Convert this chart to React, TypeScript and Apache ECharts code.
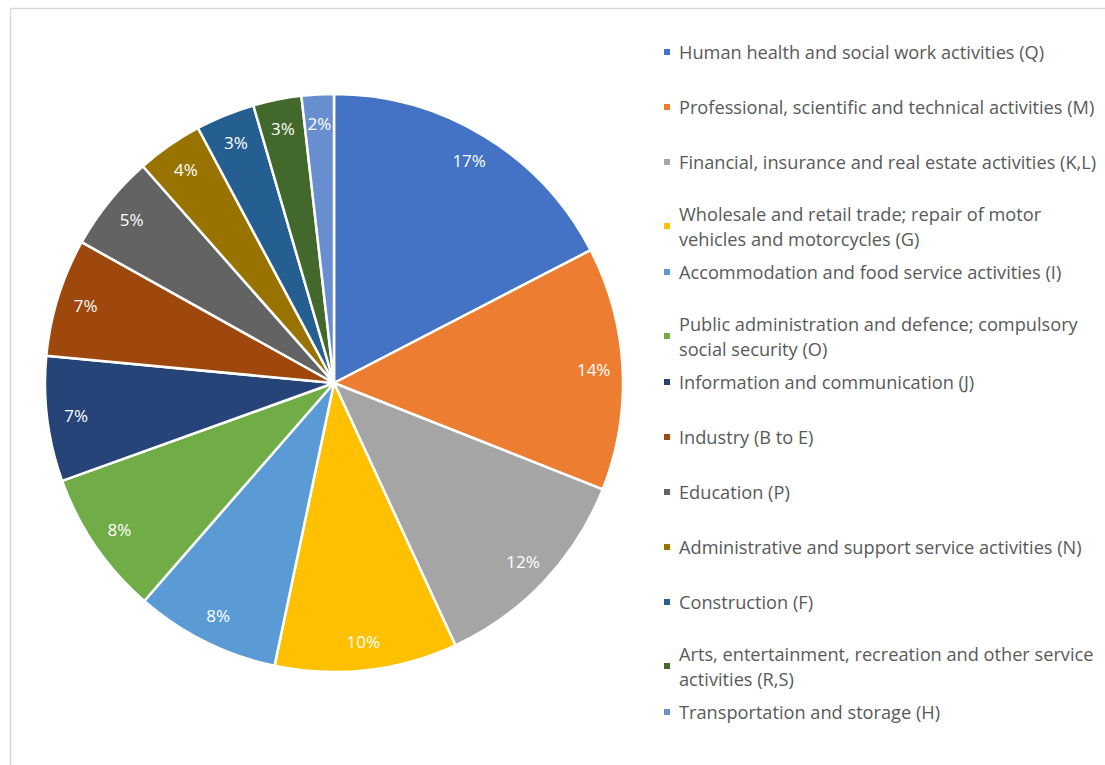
import React, { useEffect, useRef } from "react";
import * as echarts from "echarts";

const categories = [
  "Human health and social work activities (Q)",
  "Professional, scientific and technical activities (M)",
  "Financial, insurance and real estate activities (K,L)",
  "Wholesale and retail trade; repair of motor vehicles and motorcycles (G)",
  "Accommodation and food service activities (I)",
  "Public administration and defence; compulsory social security (O)",
  "Information and communication (J)",
  "Industry (B to E)",
  "Education (P)",
  "Administrative and support service activities (N)",
  "Construction (F)",
  "Arts, entertainment, recreation and other service activities (R,S)",
  "Transportation and storage (H)",
];

const legendLabels = [
  "Human health and social work activities (Q)",
  "Professional, scientific and technical activities (M)",
  "Financial, insurance and real estate activities (K,L)",
  "Wholesale and retail trade; repair of motor\nvehicles and motorcycles (G)",
  "Accommodation and food service activities (I)",
  "Public administration and defence; compulsory\nsocial security (O)",
  "Information and communication (J)",
  "Industry (B to E)",
  "Education (P)",
  "Administrative and support service activities (N)",
  "Construction (F)",
  "Arts, entertainment, recreation and other service\nactivities (R,S)",
  "Transportation and storage (H)",
];

const shares = [17.4, 13.6, 12.1, 10.2, 8.1, 8.1, 7.0, 6.6, 5.4, 3.7, 3.3, 2.7, 1.8];

const colors = [
  "#4472C4", "#ED7D31", "#A5A5A5", "#FFC000", "#5B9BD5", "#70AD47",
  "#264478", "#9E480E", "#636363", "#997300", "#255E91", "#43682B", "#698ED0",
];

const FONT = "'Open Sans', 'Noto Sans', sans-serif";

export default function App() {
  const ref = useRef<HTMLDivElement>(null);
  useEffect(() => {
    if (!ref.current) return;
    const chart = echarts.init(ref.current, undefined, { renderer: "svg" });
    const data = categories.map((name, i) => ({ name, value: shares[i] }));
    const center = [334, 383];
    chart.setOption({
      animation: false,
      color: colors,
      backgroundColor: "#ffffff",
      graphic: [
        { type: "line", shape: { x1: 10.5, y1: 8.5, x2: 1105, y2: 8.5 }, style: { stroke: "#d9d9d9", lineWidth: 1.5 } },
        { type: "line", shape: { x1: 10.5, y1: 8.5, x2: 10.5, y2: 765 }, style: { stroke: "#d9d9d9", lineWidth: 1.5 } },
      ],
      legend: categories.map((name, i) => ({
        orient: "vertical",
        left: 662,
        top: 52 + i * 55 - 12.5,
        padding: 0,
        data: [name],
        icon: "rect",
        itemWidth: 8,
        itemHeight: 8,
        selectedMode: false,
        formatter: () => legendLabels[i],
        textStyle: {
          fontFamily: FONT,
          fontSize: 18.2,
          color: "#595959",
          lineHeight: 25,
          height: 25,
          padding: [0, 0, 0, 3],
        },
      })),
      series: [
        {
          type: "pie",
          center,
          radius: [0, 289],
          startAngle: 90,
          clockwise: true,
          data,
          label: { show: false },
          labelLine: { show: false },
          itemStyle: { borderColor: "#ffffff", borderWidth: 2.5 },
          emphasis: { disabled: true },
        },
        {
          type: "pie",
          center,
          radius: [225, 289],
          startAngle: 90,
          clockwise: true,
          silent: true,
          legendHoverLink: false,
          data,
          itemStyle: { color: "transparent", borderWidth: 0 },
          label: {
            show: true,
            position: "inside",
            formatter: (p: any) => Math.round(p.percent) + "%",
            color: "#ffffff",
            fontFamily: FONT,
            fontSize: 17,
          },
          labelLine: { show: false },
          emphasis: { disabled: true },
        },
      ],
    });
    return () => chart.dispose();
  }, []);
  return (
    <div
      ref={ref}
      style={{ position: "fixed", left: 0, top: 0, width: 1105, height: 765 }}
    />
  );
}
